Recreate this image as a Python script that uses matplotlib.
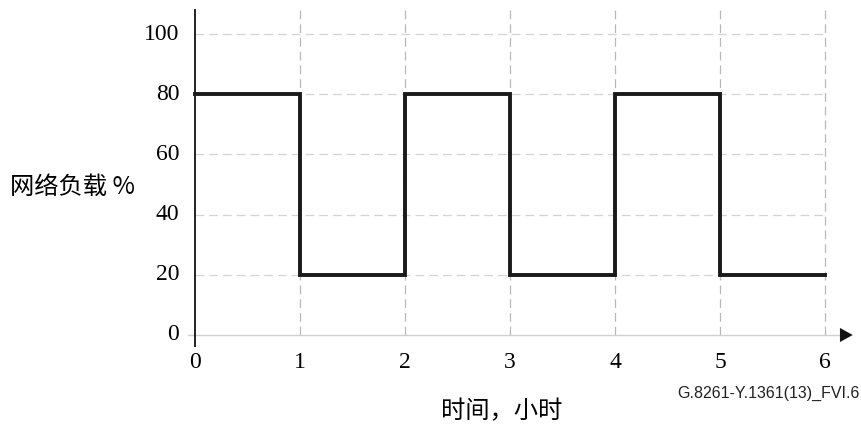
import numpy as np
import matplotlib.pyplot as plt

# Data
hours = [0, 1, 2, 3, 4, 5, 6]
load = [80, 20, 80, 20, 80, 20, 20]
x_ticks = [0, 1, 2, 3, 4, 5, 6]
y_ticks = [0, 20, 40, 60, 80, 100]

serif = ["Liberation Serif", "DejaVu Serif"]
cjk = ["Noto Sans CJK SC", "Liberation Serif", "DejaVu Sans"]

W, H = 862, 428
fig = plt.figure(figsize=(W / 100, H / 100), dpi=100)

# axes placed in pixel terms: x 0->195px, 6->825px ; y 0->335px, 100->34px
px_per_x = (825 - 195) / 6
px_per_y = (335 - 34) / 100
xlim = (-0.1, 6.3)
ylim = (-5, 108)
left = 195 + xlim[0] * px_per_x
right = 195 + xlim[1] * px_per_x
bottom = 335 - ylim[0] * px_per_y
top = 335 - ylim[1] * px_per_y
ax = fig.add_axes([left / W, 1 - bottom / H, (right - left) / W, (bottom - top) / H])
ax.set_xlim(*xlim)
ax.set_ylim(*ylim)

for s in ax.spines.values():
    s.set_visible(False)
ax.set_xticks([])
ax.set_yticks([])

# grid
for yv in y_ticks[1:]:
    ax.plot([0, 6], [yv, yv], color="#d4d4d4", lw=0.9, ls=(0, (7, 4)), zorder=1)
for xv in x_ticks[1:]:
    ax.plot([xv, xv], [0, 108], color="#b8b8b8", lw=0.9, ls=(0, (7, 4)), zorder=1)

# axes lines
ax.plot([-0.07, 6.17], [0, 0], color="#d0d0d0", lw=1.0, zorder=1, clip_on=False)
ax.plot([0, 0], [-3.5, 108], color="#222222", lw=1.4, zorder=3, clip_on=False)
ax.annotate("", xy=(6.29, 0), xytext=(6.16, 0),
            arrowprops=dict(arrowstyle="-|>,head_length=0.9,head_width=0.5",
                            color="#111111", lw=0.1), annotation_clip=False)

# step line
ax.step(hours, load, where="post", color="#1a1a1a", lw=2.8, zorder=4,
        solid_joinstyle="miter")

# tick labels
for yv in y_ticks:
    ax.text(-0.15, yv, str(yv), ha="right", va="center", fontsize=17, family=serif)
for xv in x_ticks:
    ax.text(xv, -5.8, str(xv), ha="center", va="top", fontsize=17, family=serif)

fig.text(10 / W, 1 - 187 / H, "网络负载 %", ha="left", va="center", fontsize=17.5,
         family=cjk)
fig.text(502 / W, 1 - 411 / H, "时间，小时", ha="center", va="center", fontsize=17.5,
         family=cjk)
fig.text(860 / W, 1 - 393 / H, "G.8261-Y.1361(13)_FVI.6", ha="right", va="center",
         fontsize=11.5, family=["Liberation Sans", "DejaVu Sans"], color="#222222")

fig.savefig("out.png", dpi=100)
